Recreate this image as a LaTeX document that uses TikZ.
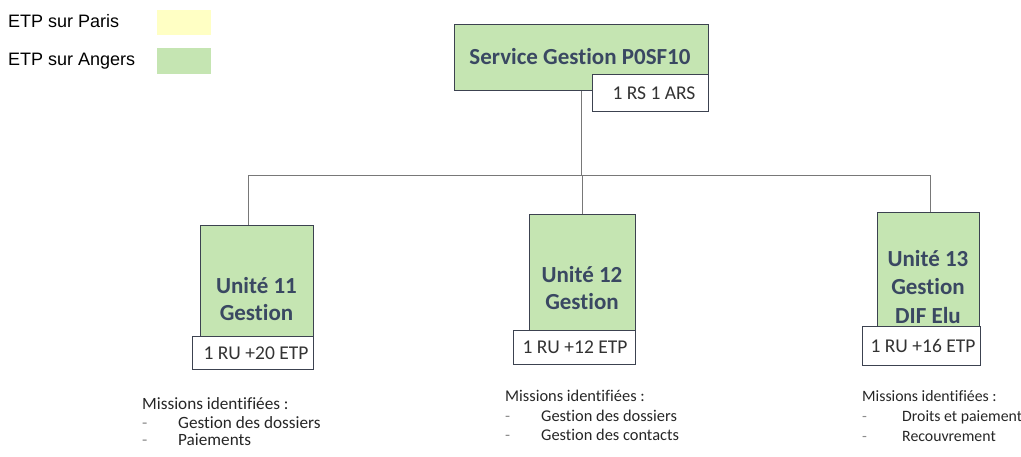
\documentclass[tikz,border=0pt]{standalone}
\usepackage{fontspec}
\setmainfont{Carlito}[Ligatures=NoCommon]
\newfontfamily\legendfont{Liberation Sans}
\definecolor{boxgreen}{RGB}{197,229,178}
\definecolor{paleyellow}{RGB}{255,255,196}
\definecolor{labelink}{RGB}{58,72,98}
\definecolor{edgeink}{RGB}{60,66,80}
\definecolor{wire}{RGB}{120,120,120}
\tikzset{
  unitbox/.style={draw=edgeink, line width=1.2pt, fill=boxgreen, anchor=north west, inner sep=0pt},
  staffbox/.style={draw=edgeink, line width=1.2pt, fill=white, anchor=north west, inner sep=0pt},
  stafflabel/.style={font=\fontsize{19.5}{22}\selectfont, text=black!80, inner sep=0pt},
  unitlabel/.style={font=\bfseries\fontsize{23}{27}\selectfont, text=labelink, align=center},
  swatch/.style={anchor=north west, inner sep=0pt, minimum width=54pt},
  legendtext/.style={font=\legendfont\fontsize{18}{20}\selectfont, anchor=west, inner sep=0pt},
  missions/.style={anchor=north west, align=left, inner sep=0pt, text=black!85},
  wireline/.style={draw=wire, line width=0.8pt}
}
\newcommand{\itemdash}[2][36pt]{\makebox[#1][l]{\textcolor{black!45}{-}}#2}
\begin{document}
\begin{tikzpicture}[x=1pt,y=-1pt]
\useasboundingbox (0,0) rectangle (1021,456);

% legend
\node[legendtext] (lgparis) at (8,21) {ETP sur Paris};
\node[legendtext] (lgangers) at (8,61) {ETP sur Angers};
\node[swatch, fill=paleyellow, minimum height=25pt] (swparis) at (157,10) {};
\node[swatch, fill=boxgreen, minimum height=26pt] (swangers) at (157,48) {};

% head of service
\node[unitbox, minimum width=254pt, minimum height=66pt] (top) at (454,24) {};
\node[unitlabel] (toplbl) at (580,57) {Service Gestion P0SF10};
\node[staffbox, minimum width=116pt, minimum height=37pt] (topstaff) at (592,74) {};
\node[stafflabel] (topstafflbl) at (654,93) {1 RS 1 ARS};

% units
\node[unitbox, minimum width=113pt, minimum height=112pt] (u11) at (200,225) {};
\node[unitlabel] (u11lbl) at (256.5,299) {Unité 11\\Gestion};
\node[staffbox, minimum width=121pt, minimum height=33pt] (u11staff) at (192,336) {};
\node[stafflabel] (u11stafflbl) at (256,353) {1 RU +20 ETP};

\node[unitbox, minimum width=106pt, minimum height=118pt] (u12) at (529,214) {};
\node[unitlabel] (u12lbl) at (582,288) {Unité 12\\Gestion};
\node[staffbox, minimum width=122pt, minimum height=34pt] (u12staff) at (513,330) {};
\node[stafflabel] (u12stafflbl) at (575,347) {1 RU +12 ETP};

\node[unitbox, minimum width=102pt, minimum height=115pt] (u13) at (877,212) {};
\node[unitlabel, font=\bfseries\fontsize{23}{28.5}\selectfont] (u13lbl) at (928,287) {Unité 13\\Gestion\\DIF Elu};
\node[staffbox, minimum width=118pt, minimum height=39pt] (u13staff) at (862,326) {};
\node[stafflabel] (u13stafflbl) at (923,346) {1 RU +16 ETP};

% connectors
\coordinate (busL) at (248,175);
\coordinate (busR) at (930,175);
\draw[wireline] (busL) -- (busR);
\draw[wireline] (top.south) -- (top.south |- busL);
\draw[wireline] (busL) -- (busL |- u11.north);
\draw[wireline] (u12.north |- busL) -- (u12.north);
\draw[wireline] (busR) -- (busR |- u13.north);

% missions
\node[missions, font=\fontsize{17.2}{19}\selectfont] (m11) at (142,397) {Missions identifiées :\\[0pt]
  \itemdash{Gestion des dossiers}\\[-2pt]\itemdash{Paiements}};
\node[missions, font=\fontsize{16.4}{19.5}\selectfont] (m12) at (505,390) {Missions identifiées :\\
  \itemdash{Gestion des dossiers}\\\itemdash{Gestion des contacts}};
\node[missions, font=\fontsize{15.8}{20}\selectfont] (m13) at (862,390) {Missions identifiées :\\
  \itemdash[40pt]{Droits et paiement}\\\itemdash[40pt]{Recouvrement}};
\end{tikzpicture}
\end{document}
